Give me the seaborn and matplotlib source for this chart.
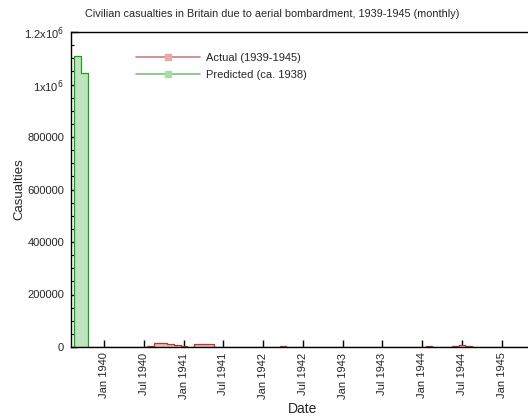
import seaborn as sns
import pandas as pd
import numpy as np
import matplotlib
matplotlib.use('Agg')
import matplotlib.pyplot as plt
import matplotlib.dates as mdates
from matplotlib.ticker import FuncFormatter, MultipleLocator
from matplotlib.lines import Line2D

# monthly values
actual_months = pd.date_range('1939-09-01', '1945-05-01', freq='MS')
actual_values = [
    0, 0, 0, 0,                                                     # 1939 Sep-Dec
    0, 0, 0, 0, 0, 100, 600, 2300, 16000, 14000, 10500, 9000,        # 1940
    3500, 1800, 9800, 13000, 10500, 900, 1000, 300, 500, 600, 300, 100,  # 1941
    200, 100, 200, 2000, 1000, 500, 900, 700, 500, 600, 100, 200,    # 1942
    1100, 500, 700, 300, 800, 300, 300, 200, 100, 300, 200, 100,     # 1943
    300, 2000, 800, 300, 100, 4500, 9000, 4500, 1200, 1100, 1900, 1000,  # 1944
    1400, 1300, 1800, 100, 0,                                        # 1945
]
predicted_months = pd.to_datetime(['1939-09-01', '1939-10-01'])
predicted_values = [1110000, 1044000]

tick_dates = pd.date_range('1940-01-01', '1945-01-01', freq='6MS')


def histeps(months, values):
    # gnuplot-style histeps outline: steps centred on each month
    x = mdates.date2num(months)
    mids = (x[1:] + x[:-1]) / 2
    half = (x[1] - x[0]) / 2
    edges = np.concatenate([[x[0] - half], mids, [x[-1] + half]])
    xs = np.concatenate([[edges[0]], edges, [edges[-1]]])
    ys = np.concatenate([[0], values, [values[-1], 0]])
    return pd.DataFrame({'t': xs, 'n': ys})


actual = histeps(actual_months, actual_values)
predicted = histeps(predicted_months, predicted_values)

sns.set_theme(style='ticks')
plt.rcParams['font.family'] = ['Liberation Sans', 'DejaVu Sans']

fig = plt.figure(figsize=(5.28, 4.2), dpi=100)
ax = fig.add_axes([71 / 528, 73 / 420, 464 / 528, 315 / 420])

for df, face, edge in [(actual, '#f2b8b8', '#b03a3a'), (predicted, '#bfe4bf', '#1e9e1e')]:
    ax.fill_between(df['t'], df['n'], step='post', color=face, linewidth=0)
    sns.lineplot(data=df, x='t', y='n', estimator=None, sort=False,
                 drawstyle='steps-post', color=edge, linewidth=0.9, ax=ax)

ax.set_xlim(mdates.date2num(pd.Timestamp('1939-08-01')),
            mdates.date2num(pd.Timestamp('1945-06-01')))
ax.set_ylim(0, 1200000)

ax.set_xticks(mdates.date2num(tick_dates))
ax.set_xticklabels([d.strftime('%b %Y') for d in tick_dates], rotation=90, fontsize=8)

ax.yaxis.set_major_locator(MultipleLocator(200000))
ax.yaxis.set_minor_locator(MultipleLocator(50000))


def yfmt(v, pos):
    if v == 1000000:
        return r'1x10$^6$'
    if v == 1200000:
        return r'1.2x10$^6$'
    return '%d' % v


ax.yaxis.set_major_formatter(FuncFormatter(yfmt))
ax.tick_params(axis='both', which='major', direction='in', length=5, width=1, labelsize=8, color='black')
ax.tick_params(axis='y', which='minor', direction='in', length=2.5, width=0.8, color='black')
ax.tick_params(axis='x', pad=4)
ax.tick_params(axis='y', pad=5)

for s in ax.spines.values():
    s.set_linewidth(1)
    s.set_color('black')

ax.set_xlabel('Date', fontsize=10)
ax.set_ylabel('Casualties', fontsize=9.5)
ax.xaxis.set_label_coords(0.5, -55 / 315)
ax.yaxis.set_label_coords(-46 / 464, 0.5)
fig.suptitle('Civilian casualties in Britain due to aerial bombardment, 1939-1945 (monthly)',
             x=272 / 528, y=1 - 14 / 420, fontsize=7.8, va='center')

handles = [
    Line2D([], [], color='#c98080', lw=1.2, marker='s', markersize=5,
           markerfacecolor='#e8a8a8', markeredgecolor='#e8a8a8'),
    Line2D([], [], color='#80c080', lw=1.2, marker='s', markersize=5,
           markerfacecolor='#a8dca8', markeredgecolor='#a8dca8'),
]
ax.legend(handles, ['Actual (1939-1945)', 'Predicted (ca. 1938)'],
          loc='upper left', bbox_to_anchor=(55 / 464, 0.965), frameon=False,
          fontsize=8, handlelength=5.8, handletextpad=0.5, labelspacing=0.6,
          numpoints=1)

fig.savefig('out.png', dpi=100)
